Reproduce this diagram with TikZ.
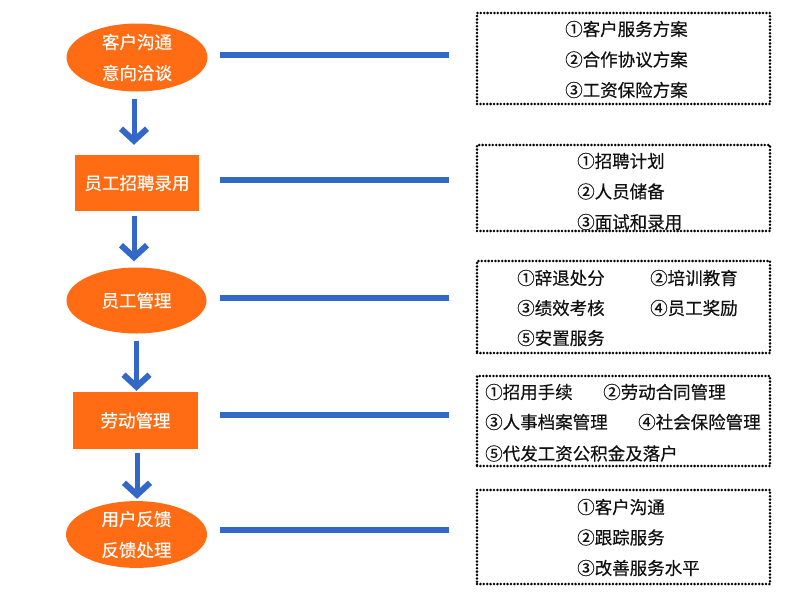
\documentclass[tikz,border=0pt]{standalone}
\usepackage{fontspec}
\setmainfont{Noto Sans CJK SC}[FakeBold=0.4]
\usetikzlibrary{shapes.geometric,arrows.meta}
\definecolor{myorange}{HTML}{FF6C14}
\definecolor{myblue}{HTML}{3468C8}
\definecolor{mytext}{HTML}{111111}
\begin{document}
\begin{tikzpicture}[x=1pt,y=-1pt,
  every node/.style={font=\fontsize{17.5}{31}\selectfont},
  oval/.style={ellipse, fill=myorange, draw=none, text=white, inner sep=0pt, align=center},
  obox/.style={rectangle, fill=myorange, draw=none, text=white, inner sep=0pt},
  dbox/.style={rectangle, draw=black, line width=2.8pt, dash pattern=on 0pt off 3.4pt, line cap=round, inner sep=0pt, minimum width=293pt},
  item/.style={anchor=west, inner sep=0pt, text=mytext},
  downarrow/.style={draw=myblue, line width=5pt, -{Straight Barb[length=12pt, width=26pt, line width=6pt]}},
  hline/.style={draw=myblue, line width=6pt}
]
\useasboundingbox (0,0) rectangle (800,600);
% left nodes
\node[oval, minimum width=141pt, minimum height=68pt] (e1) at (137,57.5) {客户沟通\\意向洽谈};
\node[obox, minimum width=124pt, minimum height=56pt] (r1) at (137,183) {员工招聘录用};
\node[oval, minimum width=140pt, minimum height=66pt] (e2) at (136.5,300.5) {员工管理};
\node[obox, minimum width=125pt, minimum height=57pt] (r2) at (135.5,420.5) {劳动管理};
\node[oval, minimum width=141pt, minimum height=65pt] (e3) at (136.5,534.5) {用户反馈\\反馈处理};
% dotted boxes
\node[dbox, minimum height=91pt] (b1) at (623.5,58.5) {};
\node[dbox, minimum height=86pt] (b2) at (623.5,188) {};
\node[dbox, minimum height=92pt] (b3) at (623.5,307) {};
\node[dbox, minimum height=90pt] (b4) at (623.5,421) {};
\node[dbox, minimum height=94pt] (b5) at (623.5,537) {};
% box texts
\node[item] (t11) at (565,29) {①客户服务方案};
\node[item] (t12) at (565,59.5) {②合作协议方案};
\node[item] (t13) at (565,90) {③工资保险方案};
\node[item] (t21) at (577,161) {①招聘计划};
\node[item] (t22) at (577,191.5) {②人员储备};
\node[item] (t23) at (577,222) {③面试和录用};
\node[item] (t31) at (517,278) {①辞退处分};
\node[item] (t32) at (650,278) {②培训教育};
\node[item] (t33) at (517,308) {③绩效考核};
\node[item] (t34) at (650,308) {④员工奖励};
\node[item] (t35) at (517,338) {⑤安置服务};
\node[item] (t41) at (485,392) {①招用手续};
\node[item] (t42) at (603,392) {②劳动合同管理};
\node[item] (t43) at (485,422) {③人事档案管理};
\node[item] (t44) at (638,422) {④社会保险管理};
\node[item] (t45) at (485,453.5) {⑤代发工资公积金及落户};
\node[item] (t51) at (577,507) {①客户沟通};
\node[item] (t52) at (577,537.5) {②跟踪服务};
\node[item] (t53) at (577,568) {③改善服务水平};
% vertical arrows
\draw[downarrow, shorten <=7pt, shorten >=10pt] ([xshift=-3pt]e1.south) -- ([xshift=-3pt]e1.south |- r1.north);
\draw[downarrow, shorten <=5pt, shorten >=6pt] ([xshift=-3pt]r1.south) -- ([xshift=-3pt]r1.south |- e2.north);
\draw[downarrow, shorten <=7pt, shorten >=1pt] (e2.south) -- (e2.south |- r2.north);
\draw[downarrow, shorten <=4pt, shorten >=2pt] ([xshift=1.5pt]r2.south) -- ([xshift=1.5pt]r2.south |- e3.north);
% horizontal connectors
\coordinate (h1a) at (220,55);  \coordinate (h1b) at (449,55);
\coordinate (h2a) at (220,180); \coordinate (h2b) at (449,180);
\coordinate (h3a) at (220,298); \coordinate (h3b) at (449,298);
\coordinate (h4a) at (220,415); \coordinate (h4b) at (449,415);
\coordinate (h5a) at (220,530); \coordinate (h5b) at (449,530);
\draw[hline] (h1a) -- (h1b);
\draw[hline] (h2a) -- (h2b);
\draw[hline] (h3a) -- (h3b);
\draw[hline] (h4a) -- (h4b);
\draw[hline] (h5a) -- (h5b);
\end{tikzpicture}
\end{document}
